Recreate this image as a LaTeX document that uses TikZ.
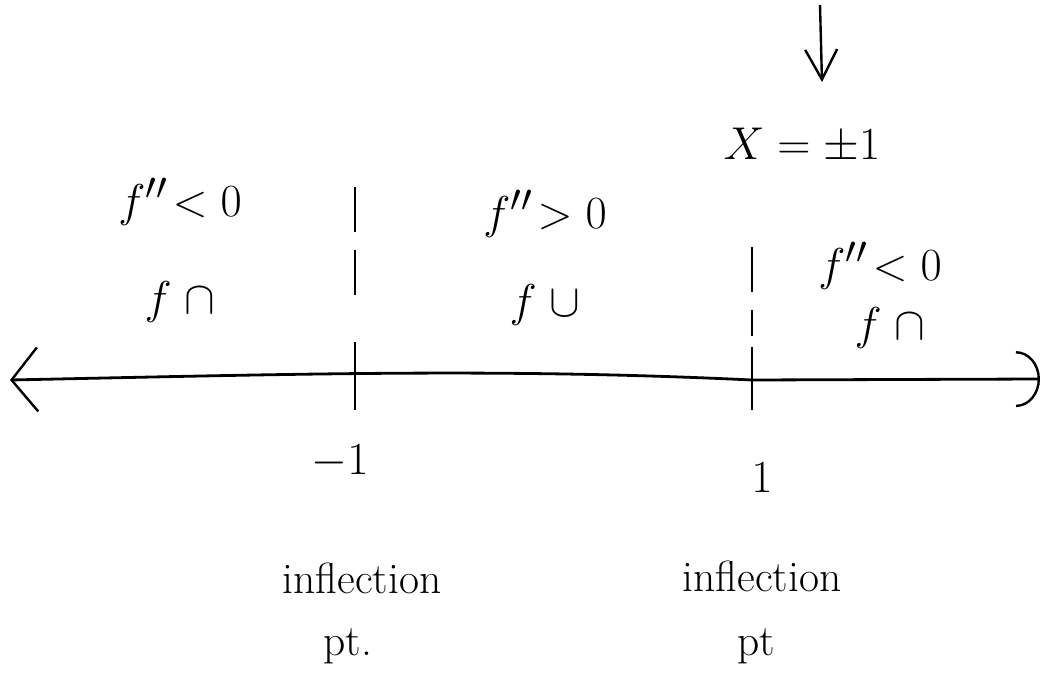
\documentclass[tikz,border=0pt]{standalone}
\usepackage{amsmath}
\usepackage{tikz}
\usetikzlibrary{positioning,arrows.meta,calc}

\begin{document}
\begin{tikzpicture}[
  x=1pt, y=-1pt,
  lbl/.style={inner sep=0pt, font=\fontsize{24.88}{30}\selectfont, scale=1.85},
  note/.style={inner sep=0pt, font=\fontsize{24.88}{30}\selectfont, scale=1.75},
  axis/.style={line width=2.8pt, {Straight Barb[length=26pt,width=64pt,line width=2.4pt]}-{Arc Barb[length=24pt,width=56pt,line width=2.4pt]}},
  tick/.style={line width=2.4pt},
  guide/.style={line width=2pt, dash pattern=on 45pt off 18pt},
  pointer/.style={line width=2.4pt, -{Straight Barb[length=30pt,width=32pt,line width=2.4pt]}}
]
\useasboundingbox (0,0) rectangle (1052,690);

% number line
\coordinate (axL) at (10,380);
\coordinate (axR) at (1040,379);
\draw[axis] (axL) .. controls (300,374) and (500,368) .. (752,380) -- (axR);

% tick marks and guide lines
\coordinate (tmA) at (355,342);
\coordinate (tmB) at (355,410);
\coordinate (gdA) at (355,187);
\coordinate (gdB) at (355,302);
\draw[tick]  (tmA) -- (tmB);
\draw[guide] (gdA) -- (gdB);

\coordinate (tpA) at (752,347);
\coordinate (tpB) at (752,410);
\coordinate (gpA) at (752,247);
\coordinate (gpB) at (752,336);
\draw[tick]  (tpA) -- (tpB);
\draw[guide] (gpA) -- (gpB);

% sign of f'' on each interval
\node[lbl] (sgL) at (180,202) {$f''\!<0$};
\node[lbl] (shL) at (180,302) {$f\;\cap$};
\node[lbl] (sgM) at (545,214) {$f''\!>0$};
\node[lbl] (shM) at (545,305) {$f\;\cup$};
\node[lbl] (sgR) at (880,266) {$f''\!<0$};
\node[lbl] (shR) at (890,328) {$f\;\cap$};

% the points
\node[lbl] (xeq) at (802,146) {$X=\pm1$};
\coordinate (ptr) at (820,5);
\coordinate (ptrEnd) at (822,82);
\draw[pointer] (ptr) -- (ptrEnd);

\node[lbl] (mone) at (340,462) {$-1$};
\node[lbl] (pone) at (762,478) {$1$};

\node[note] (infL) at (362,578) {inflection};
\node[note] (ptL)  at (348,646) {pt.};
\node[note] (infR) at (762,576) {inflection};
\node[note] (ptR)  at (756,646) {pt};
\end{tikzpicture}
\end{document}
